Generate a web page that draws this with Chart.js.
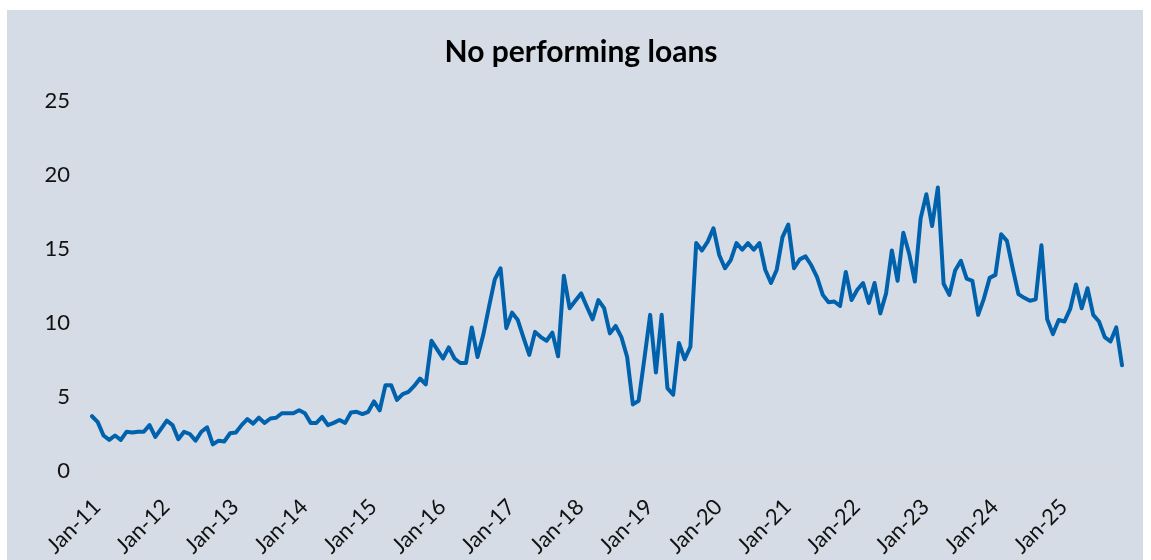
<!DOCTYPE html>
<html>
<head>
<meta charset="utf-8">
<script src="https://cdn.jsdelivr.net/npm/chart.js@4.4.1/dist/chart.umd.min.js"></script>
<style>
  html, body { margin: 0; padding: 0; background: #ffffff; }
  #wrap { position: absolute; left: 7px; top: 10px; width: 1136px; height: 550px; background: #D6DCE5; }
  canvas { display: block; }
</style>
</head>
<body>
<div id="wrap"><canvas id="c" width="1136" height="550"></canvas></div>
<script>
// ---- data ----
const years = ['11','12','13','14','15','16','17','18','19','20','21','22','23','24','25'];
const months = ['Jan','Feb','Mar','Apr','May','Jun','Jul','Aug','Sep','Oct','Nov','Dec'];
const categories = [];
years.forEach(y => months.forEach(m => categories.push(m + '-' + y)));

const npl = [
  3.7, 3.3, 2.4, 2.1, 2.4, 2.1, 2.65, 2.6, 2.65, 2.65, 3.1, 2.3,
  2.85, 3.4, 3.1, 2.15, 2.65, 2.5, 2.05, 2.65, 2.95, 1.8, 2.05, 2.0,
  2.55, 2.6, 3.1, 3.5, 3.2, 3.6, 3.25, 3.55, 3.6, 3.9, 3.9, 3.9,
  4.1, 3.9, 3.25, 3.25, 3.65, 3.1, 3.25, 3.45, 3.25, 3.95, 4.0, 3.85,
  4.0, 4.7, 4.1, 5.8, 5.8, 4.8, 5.2, 5.35, 5.75, 6.25, 5.85, 8.8,
  8.2, 7.6, 8.35, 7.6, 7.3, 7.3, 9.7, 7.7, 9.2, 11.1, 12.95, 13.7,
  9.65, 10.7, 10.2, 9.0, 7.85, 9.4, 9.05, 8.8, 9.35, 7.75, 13.2, 11.0,
  11.5, 12.0, 11.1, 10.25, 11.55, 11.0, 9.3, 9.8, 9.05, 7.7, 4.5, 4.75,
  7.6, 10.55, 6.65, 10.55, 5.6, 5.15, 8.65, 7.55, 8.4, 15.4, 14.9, 15.5,
  16.4, 14.6, 13.7, 14.25, 15.4, 14.95, 15.4, 14.95, 15.4, 13.6, 12.7, 13.6,
  15.8, 16.65, 13.7, 14.3, 14.5, 13.9, 13.1, 11.9, 11.4, 11.45, 11.15, 13.45,
  11.55, 12.25, 12.7, 11.35, 12.7, 10.65, 12.0, 14.9, 12.85, 16.1, 14.7, 12.8,
  17.05, 18.7, 16.55, 19.15, 12.65, 11.9, 13.55, 14.2, 13.0, 12.85, 10.55, 11.65,
  13.05, 13.25, 16.0, 15.55, 13.7, 11.95, 11.7, 11.5, 11.6, 15.25, 10.25, 9.25,
  10.2, 10.1, 10.95, 12.6, 11.0, 12.35, 10.55, 10.1, 9.05, 8.75, 9.7, 7.15
];

const titleText = 'No performing loans';
const yTicks = [0, 5, 10, 15, 20, 25];

new Chart(document.getElementById('c'), {
  type: 'line',
  data: {
    labels: categories,
    datasets: [{
      label: titleText,
      data: npl,
      borderColor: '#0062AD',
      borderWidth: 4,
      pointRadius: 0,
      tension: 0,
      fill: false,
      borderJoinStyle: 'round',
      borderCapStyle: 'round'
    }]
  },
  options: {
    responsive: false,
    animation: false,
    layout: { padding: { left: 33, right: 21, top: 0, bottom: 0 } },
    plugins: {
      legend: { display: false },
      tooltip: { enabled: false },
      title: {
        display: true,
        text: titleText,
        color: '#000000',
        font: { family: 'Lato', size: 30, weight: 'bold' },
        padding: { top: 24, bottom: 31 }
      }
    },
    scales: {
      x: {
        offset: false,
        grid: { drawOnChartArea: false, drawTicks: true, tickLength: 7, color: '#DCDCDC', lineWidth: 1 },
        border: { display: true, color: '#DCDCDC', width: 1 },
        ticks: {
          autoSkip: false,
          minRotation: 45,
          maxRotation: 45,
          padding: 16,
          labelOffset: 5,
          color: '#111111',
          font: { family: 'Lato', size: 22 },
          callback: function (v, i) { return i % 12 === 0 ? categories[i] : null; }
        },
        afterFit: function (s) { s.height = 89; }
      },
      y: {
        min: 0,
        max: 25,
        grid: { display: false, drawTicks: false },
        border: { display: false },
        ticks: {
          stepSize: 5,
          padding: 22,
          color: '#111111',
          font: { family: 'Lato', size: 22 },
          callback: function (v) { return yTicks.includes(v) ? String(v) : null; }
        },
        afterFit: function (s) { s.width = 52; }
      }
    }
  }
});
</script>
</body>
</html>
